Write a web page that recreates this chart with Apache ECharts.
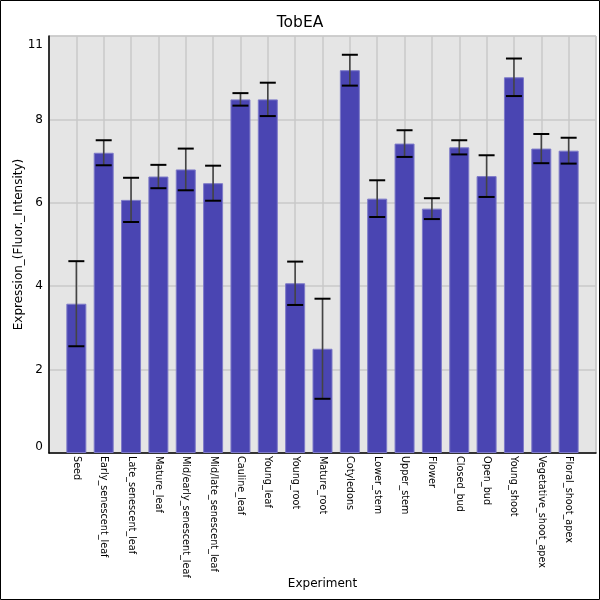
<!DOCTYPE html>
<html>
<head>
<meta charset="utf-8">
<script src="https://cdn.jsdelivr.net/npm/echarts@6/dist/echarts.min.js"></script>
<style>
  html, body { margin: 0; padding: 0; background: #fff; }
  #chart { width: 600px; height: 600px; }
</style>
</head>
<body>
<div id="chart"></div>
<script>
// tissues along the x axis
var experiments = ['Seed', 'Early_senescent_leaf', 'Late_senescent_leaf', 'Mature_leaf',
  'Mid/early_senescent_leaf', 'Mid/late_senescent_leaf', 'Cauline_leaf', 'Young_leaf',
  'Young_root', 'Mature_root', 'Cotyledons', 'Lower_stem', 'Upper_stem', 'Flower',
  'Closed_bud', 'Open_bud', 'Young_shoot', 'Vegetative_shoot_apex', 'Floral_shoot_apex'];
var expression = [3.58, 7.2, 6.07, 6.63, 6.8, 6.47, 8.48, 8.48, 4.07, 2.5, 9.18,
  6.1, 7.42, 5.86, 7.33, 6.64, 9.01, 7.3, 7.25];
var errors = [1.02, 0.3, 0.53, 0.28, 0.5, 0.42, 0.15, 0.4, 0.52, 1.2, 0.37,
  0.44, 0.32, 0.25, 0.17, 0.5, 0.45, 0.35, 0.31];
var yTickLabels = ['0', '2', '4', '6', '8', '11'];

// pad one empty slot each side so bars sit one band in from the edges
var cats = [''].concat(experiments, ['']);
var barData = [null].concat(expression, [null]);
var errData = expression.map(function (v, i) {
  return [i + 1, v - errors[i], v + errors[i]];
});

var chart = echarts.init(document.getElementById('chart'));
chart.setOption({
  animation: false,
  textStyle: { fontFamily: 'DejaVu Sans' },
  title: {
    text: 'TobEA',
    left: 'center',
    top: 10,
    textStyle: { fontSize: 15.5, fontWeight: 'normal', color: '#000', fontFamily: 'DejaVu Sans' }
  },
  graphic: [{
    type: 'rect',
    shape: { x: 0.5, y: 0.5, width: 599, height: 599 },
    style: { fill: 'none', stroke: '#000', lineWidth: 1 },
    z: 100
  }],
  grid: {
    left: 49, right: 4, top: 36, bottom: 147,
    outerBoundsMode: 'none',
    containLabel: false,
    show: true, backgroundColor: '#e5e5e5', borderColor: '#c8c8c8', borderWidth: 1
  },
  xAxis: {
    type: 'category',
    data: cats,
    boundaryGap: false,
    name: 'Experiment',
    nameLocation: 'middle',
    nameGap: 125,
    nameMoveOverlap: false,
    nameTextStyle: { fontSize: 12, color: '#000' },
    axisLine: { lineStyle: { color: '#000', width: 1.5 } },
    axisTick: { show: false },
    axisLabel: { rotate: -90, interval: 0, fontSize: 9.7, color: '#000', margin: 3 },
    splitLine: { show: true, lineStyle: { color: '#c8c8c8', width: 1.5 } }
  },
  yAxis: {
    type: 'value',
    min: 0, max: 10, interval: 2,
    name: 'Expression_(Fluor._Intensity)',
    nameLocation: 'middle',
    nameGap: 24,
    nameMoveOverlap: false,
    nameTextStyle: { fontSize: 12, color: '#000' },
    axisLine: { show: true, lineStyle: { color: '#000', width: 1.5 } },
    axisTick: { show: false },
    axisLabel: {
      fontSize: 12, color: '#000', margin: 6,
      verticalAlignMinLabel: 'bottom',
      verticalAlignMaxLabel: 'top',
      formatter: function (v, i) {
        return i === yTickLabels.length - 1 ? '{top|' + yTickLabels[i] + '}' : yTickLabels[i];
      },
      rich: { top: { fontSize: 12, color: '#000', padding: [3, 0, 0, 0] } }
    },
    splitLine: { lineStyle: { color: '#c8c8c8', width: 1.5 } }
  },
  series: [{
    type: 'bar',
    data: barData,
    barWidth: 20,
    itemStyle: { color: '#4a45b2', borderColor: '#7d7ac8', borderWidth: 1 }
  }, {
    type: 'custom',
    data: errData,
    z: 10,
    renderItem: function (params, api) {
      var x = api.value(0);
      var lo = api.coord([x, api.value(1)]);
      var hi = api.coord([x, api.value(2)]);
      var hw = 8;
      return {
        type: 'group',
        children: [{
          type: 'line',
          shape: { x1: lo[0], y1: lo[1], x2: hi[0], y2: hi[1] },
          style: { stroke: '#444', lineWidth: 1.6 }
        }, {
          type: 'line',
          shape: { x1: hi[0] - hw, y1: hi[1], x2: hi[0] + hw, y2: hi[1] },
          style: { stroke: '#000', lineWidth: 2 }
        }, {
          type: 'line',
          shape: { x1: lo[0] - hw, y1: lo[1], x2: lo[0] + hw, y2: lo[1] },
          style: { stroke: '#000', lineWidth: 2 }
        }]
      };
    }
  }]
});
</script>
</body>
</html>
